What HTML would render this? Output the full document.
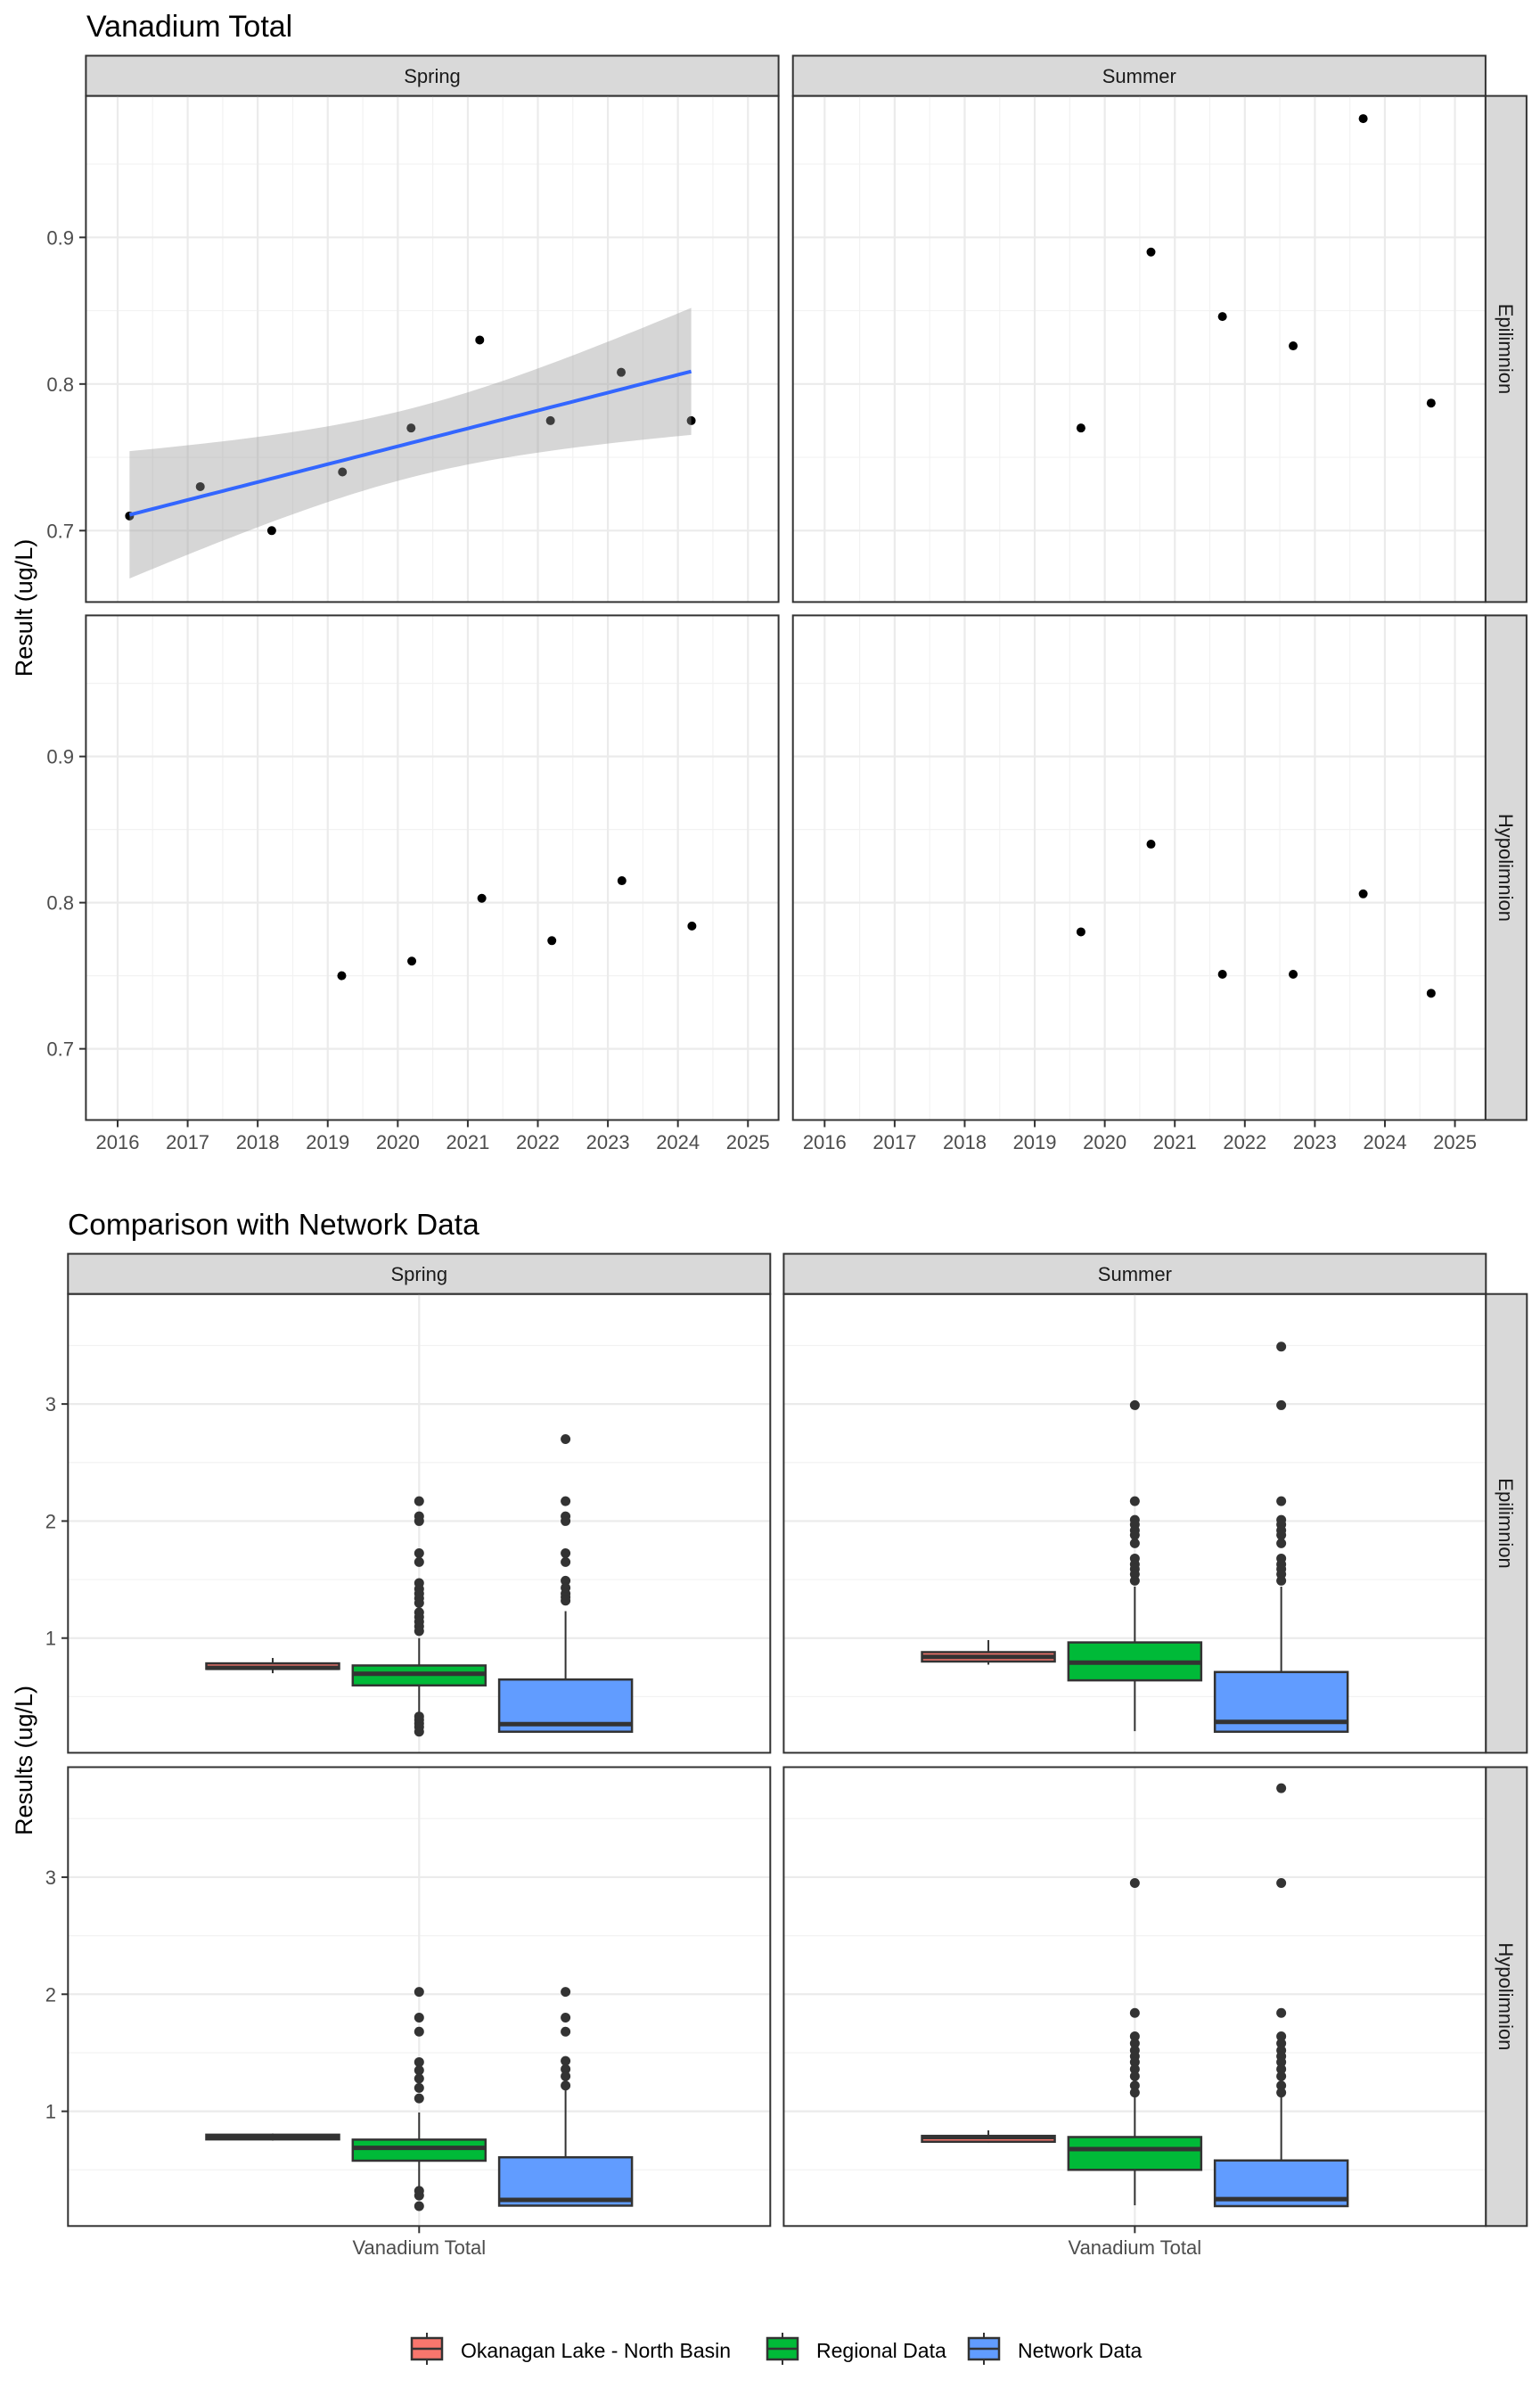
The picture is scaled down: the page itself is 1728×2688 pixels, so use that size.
<!DOCTYPE html>
<html><head><meta charset="utf-8"><style>
html,body{margin:0;padding:0;background:#fff;}
svg{display:block;font-family:"Liberation Sans",Arial,sans-serif;}
</style></head><body>
<svg id="chart" width="1728" height="2688" viewBox="0 0 1728 2688" xmlns="http://www.w3.org/2000/svg">
<rect width="1728" height="2688" fill="#fff"/>
<text x="97" y="41" font-size="34" fill="#000">Vanadium Total</text>
<text x="76" y="1385" font-size="33.5" fill="#000">Comparison with Network Data</text>
<text transform="translate(36,682) rotate(-90)" text-anchor="middle" font-size="27" fill="#000">Result (ug/L)</text>
<text transform="translate(36,1975) rotate(-90)" text-anchor="middle" font-size="27" fill="#000">Results (ug/L)</text>
<g id="topchart"></g>
<g id="bottomchart"></g>
<g id="legend"></g>
</svg>
<script>
// ---------- Trend chart data ----------
const seasons = ["Spring", "Summer"];
const layers = ["Epilimnion", "Hypolimnion"];
const yearTicks = [2016,2017,2018,2019,2020,2021,2022,2023,2024,2025];
const trendYTicks = [0.7, 0.8, 0.9];
const trendYTickLabels = ["0.7", "0.8", "0.9"];
const springEpiYears = [2016.17,2017.18,2018.2,2019.21,2020.19,2021.17,2022.18,2023.19,2024.19];
const springEpiValues = [0.71,0.73,0.70,0.74,0.77,0.83,0.775,0.808,0.775];
const springHypoYears = [2019.2,2020.2,2021.2,2022.2,2023.2,2024.2];
const springHypoValues = [0.75,0.76,0.803,0.774,0.815,0.784];
const summerEpiYears = [2019.66,2020.66,2021.68,2022.69,2023.69,2024.66];
const summerEpiValues = [0.77,0.89,0.846,0.826,0.981,0.787];
const summerHypoYears = [2019.66,2020.66,2021.68,2022.69,2023.69,2024.66];
const summerHypoValues = [0.78,0.84,0.751,0.751,0.806,0.738];

// ---------- Comparison chart data ----------
const groups = ["Okanagan Lake - North Basin", "Regional Data", "Network Data"];
const boxYTicks = [1, 2, 3];
const boxYTickLabels = ["1", "2", "3"];
const xCategory = "Vanadium Total";
// [lowWhisker, q1, median, q3, highWhisker]
const springEpiStats = [[0.70,0.737,0.746,0.784,0.83],[0.35,0.596,0.695,0.766,1.0],[0.2,0.2,0.265,0.646,1.23]];
const springEpiOut = [[],[2.17,2.04,2.0,1.725,1.65,1.47,1.42,1.38,1.34,1.3,1.22,1.18,1.14,1.1,1.06,0.33,0.3,0.27,0.24,0.2],[2.70,2.17,2.04,2.0,1.725,1.65,1.49,1.43,1.38,1.35,1.32]];
const summerEpiStats = [[0.773,0.80,0.84,0.88,0.983],[0.205,0.639,0.79,0.963,1.44],[0.2,0.2,0.284,0.71,1.44]];
const summerEpiOut = [[],[2.99,2.17,2.01,1.97,1.92,1.88,1.81,1.68,1.63,1.59,1.545,1.49],[3.49,2.99,2.17,2.01,1.97,1.92,1.88,1.81,1.68,1.63,1.59,1.545,1.49]];
const springHypoStats = [[0.75,0.76,0.78,0.80,0.81],[0.36,0.578,0.688,0.758,0.99],[0.194,0.194,0.243,0.607,1.21]];
const springHypoOut = [[],[2.02,1.80,1.68,1.42,1.35,1.28,1.20,1.11,0.32,0.28,0.19],[2.02,1.80,1.68,1.43,1.36,1.30,1.22]];
const summerHypoStats = [[0.73,0.74,0.78,0.79,0.837],[0.197,0.50,0.677,0.78,1.14],[0.19,0.19,0.25,0.58,1.14]];
const summerHypoOut = [[],[2.95,1.84,1.64,1.58,1.52,1.47,1.42,1.36,1.30,1.22,1.16],[3.76,2.95,1.84,1.64,1.58,1.52,1.47,1.42,1.36,1.30,1.22,1.16]];
const groupColors = ["#F8766D","#00BA38","#619CFF"];

const NS = "http://www.w3.org/2000/svg";
function mk(parent, tag, attrs){ const e=document.createElementNS(NS,tag); for(const k in attrs) e.setAttribute(k,attrs[k]); parent.appendChild(e); return e; }

// ================= TOP CHART =================
const topG = document.getElementById("topchart");
const tCols = [[96.4,873.6],[889.7,1666.9]];
const tRows = [[107.6,675.4],[690.4,1256.5]];
const tXDom = [2015.547, 2025.437];
const tYDom = [0.6513, 0.9965];
const tData = [[[springEpiYears,springEpiValues],[springHypoYears,springHypoValues]],[[summerEpiYears,summerEpiValues],[summerHypoYears,summerHypoValues]]];

function fitLine(xs, ys){
  const n=xs.length; const mx=xs.reduce((a,b)=>a+b,0)/n; const my=ys.reduce((a,b)=>a+b,0)/n;
  let sxx=0,sxy=0; for(let i=0;i<n;i++){sxx+=(xs[i]-mx)**2; sxy+=(xs[i]-mx)*(ys[i]-my);}
  const b=sxy/sxx, a=my-b*mx; let sse=0; for(let i=0;i<n;i++) sse+=(ys[i]-a-b*xs[i])**2;
  const s=Math.sqrt(sse/(n-2)); return {a,b,s,n,mx,sxx};
}

for(let c=0;c<2;c++){
  const [x0,x1]=tCols[c];
  const sx=v=>x0+(v-tXDom[0])/(tXDom[1]-tXDom[0])*(x1-x0);
  const strip=mk(topG,"rect",{x:x0,y:62.5,width:x1-x0,height:45.1,fill:"#d9d9d9",stroke:"#333",'stroke-width':2});
  
  
  const st=mk(topG,"text",{x:(x0+x1)/2,y:93,'text-anchor':'middle','font-size':22,fill:'#1a1a1a'}); st.textContent=seasons[c];
  
  
  for(let r=0;r<2;r++){
    const [y0,y1]=tRows[r];
    const sy=v=>y1-(v-tYDom[0])/(tYDom[1]-tYDom[0])*(y1-y0);
    const g=mk(topG,"g",{});
    
    
    for(let i=0;i<yearTicks.length+1;i++){ const yv=yearTicks[0]-0.5+i; const xx=sx(yv); if(xx>x0&&xx<x1) mk(g,"line",{x1:xx,x2:xx,y1:y0,y2:y1,stroke:"#f2f2f2",'stroke-width':1.2}); }
    [0.65,0.75,0.85,0.95].forEach(v=>{const yy=sy(v); if(yy>y0&&yy<y1) mk(g,"line",{x1:x0,x2:x1,y1:yy,y2:yy,stroke:"#f2f2f2",'stroke-width':1.2});});
    yearTicks.forEach(v=>{const xx=sx(v); mk(g,"line",{x1:xx,x2:xx,y1:y0,y2:y1,stroke:"#ebebeb",'stroke-width':2.2});});
    trendYTicks.forEach(v=>{const yy=sy(v); mk(g,"line",{x1:x0,x2:x1,y1:yy,y2:yy,stroke:"#ebebeb",'stroke-width':2.2});});
    const [xs,ys]=tData[c][r];
    for(let i=0;i<xs.length;i++){
      const p=mk(g,"circle",{cx:sx(xs[i]),cy:sy(ys[i]),r:5,fill:"#000"});
      
      
    }
    if(c===0&&r===0){
      const f=fitLine(xs,ys); const t=2.365; const lo=Math.min(...xs), hi=Math.max(...xs);
      let up=[],dn=[],ln=[];
      for(let k=0;k<=60;k++){ const xv=lo+(hi-lo)*k/60; const yh=f.a+f.b*xv; const se=f.s*Math.sqrt(1/f.n+(xv-f.mx)**2/f.sxx);
        up.push(sx(xv)+","+sy(yh+t*se)); dn.unshift(sx(xv)+","+sy(yh-t*se)); ln.push(sx(xv)+","+sy(yh)); }
      const band=mk(g,"polygon",{points:up.concat(dn).join(" "),fill:"#999999",'fill-opacity':0.4});
      
      
      const line=mk(g,"polyline",{points:ln.join(" "),fill:"none",stroke:"#3366FF",'stroke-width':4});
      
      
    }
    mk(g,"rect",{x:x0,y:y0,width:x1-x0,height:y1-y0,fill:"none",stroke:"#333",'stroke-width':2});
    if(c===1){
      const rs=mk(topG,"rect",{x:1666.9,y:y0,width:46,height:y1-y0,fill:"#d9d9d9",stroke:"#333",'stroke-width':2});
      
      
      const rt=mk(topG,"text",{transform:`translate(1682,${(y0+y1)/2}) rotate(90)`,'text-anchor':'middle','font-size':22,fill:'#1a1a1a'}); rt.textContent=layers[r];
      
      
    }
    if(c===0){
      trendYTicks.forEach((v,i)=>{const yy=sy(v); mk(topG,"line",{x1:89,x2:96.4,y1:yy,y2:yy,stroke:"#333",'stroke-width':2});
        const tl=mk(topG,"text",{x:83,y:yy+8,'text-anchor':'end','font-size':22,fill:'#4d4d4d'}); tl.textContent=trendYTickLabels[i];
        
        });
    }
    if(r===1){
      yearTicks.forEach(v=>{const xx=sx(v); mk(topG,"line",{x1:xx,x2:xx,y1:y1,y2:y1+8,stroke:"#333",'stroke-width':2});
        const tl=mk(topG,"text",{x:xx,y:1289,'text-anchor':'middle','font-size':22,fill:'#4d4d4d'}); tl.textContent=String(v);
        
        });
    }
  }
}

// ================= BOTTOM CHART =================
const botG = document.getElementById("bottomchart");
const bCols = [[76.3,864.3],[879.4,1667.3]];
const bRows = [[1451.7,1966.4],[1982.5,2497.3]];
const bYDom = [0.02, 3.94];
const bStats = [[springEpiStats,springHypoStats],[summerEpiStats,summerHypoStats]];
const bOut = [[springEpiOut,springHypoOut],[summerEpiOut,summerHypoOut]];
const dodge = 164.3, boxW = 149;

for(let c=0;c<2;c++){
  const [x0,x1]=bCols[c]; const cx=(x0+x1)/2;
  const strip=mk(botG,"rect",{x:x0,y:1406.6,width:x1-x0,height:45.1,fill:"#d9d9d9",stroke:"#333",'stroke-width':2});
  
  
  const st=mk(botG,"text",{x:cx,y:1437,'text-anchor':'middle','font-size':22,fill:'#1a1a1a'}); st.textContent=seasons[c];
  
  
  for(let r=0;r<2;r++){
    const [y0,y1]=bRows[r];
    const sy=v=>y1-(v-bYDom[0])/(bYDom[1]-bYDom[0])*(y1-y0);
    const g=mk(botG,"g",{});
    
    
    [0.5,1.5,2.5,3.5].forEach(v=>{const yy=sy(v); mk(g,"line",{x1:x0,x2:x1,y1:yy,y2:yy,stroke:"#f2f2f2",'stroke-width':1.2});});
    boxYTicks.forEach(v=>{const yy=sy(v); mk(g,"line",{x1:x0,x2:x1,y1:yy,y2:yy,stroke:"#ebebeb",'stroke-width':2.2});});
    mk(g,"line",{x1:cx,x2:cx,y1:y0,y2:y1,stroke:"#ebebeb",'stroke-width':2.2});
    const stats=bStats[c][r], outs=bOut[c][r];
    for(let k=0;k<3;k++){
      const gx=cx+(k-1)*dodge; const s=stats[k];
      const bg=mk(g,"g",{});
      
      
      mk(bg,"line",{x1:gx,x2:gx,y1:sy(s[4]),y2:sy(s[3]),stroke:"#333",'stroke-width':2});
      mk(bg,"line",{x1:gx,x2:gx,y1:sy(s[1]),y2:sy(s[0]),stroke:"#333",'stroke-width':2});
      mk(bg,"rect",{x:gx-boxW/2,y:sy(s[3]),width:boxW,height:Math.max(sy(s[1])-sy(s[3]),1),fill:groupColors[k],stroke:"#333",'stroke-width':2.5});
      mk(bg,"line",{x1:gx-boxW/2,x2:gx+boxW/2,y1:sy(s[2]),y2:sy(s[2]),stroke:"#333",'stroke-width':5});
      outs[k].forEach(v=>{const o=mk(bg,"circle",{cx:gx,cy:sy(v),r:5.5,fill:"#333"});
        
        });
    }
    mk(g,"rect",{x:x0,y:y0,width:x1-x0,height:y1-y0,fill:"none",stroke:"#333",'stroke-width':2});
    if(c===1){
      const rs=mk(botG,"rect",{x:1667.3,y:y0,width:46,height:y1-y0,fill:"#d9d9d9",stroke:"#333",'stroke-width':2});
      
      
      const rt=mk(botG,"text",{transform:`translate(1682,${(y0+y1)/2}) rotate(90)`,'text-anchor':'middle','font-size':22,fill:'#1a1a1a'}); rt.textContent=layers[r];
      
      
    }
    if(c===0){
      boxYTicks.forEach((v,i)=>{const yy=sy(v); mk(botG,"line",{x1:69,x2:76.3,y1:yy,y2:yy,stroke:"#333",'stroke-width':2});
        const tl=mk(botG,"text",{x:63,y:yy+8,'text-anchor':'end','font-size':22,fill:'#4d4d4d'}); tl.textContent=boxYTickLabels[i];
        
        });
    }
    if(r===1){
      mk(botG,"line",{x1:cx,x2:cx,y1:y1,y2:y1+8,stroke:"#333",'stroke-width':2});
      const tl=mk(botG,"text",{x:cx,y:2529,'text-anchor':'middle','font-size':22,fill:'#4d4d4d'}); tl.textContent=xCategory;
      
      
    }
  }
}

// ================= LEGEND =================
const legG=document.getElementById("legend");
const legKeyX=[462,861,1087];
for(let k=0;k<3;k++){
  const g=mk(legG,"g",{});
  
  
  const kx=legKeyX[k];
  mk(g,"line",{x1:kx+17,x2:kx+17,y1:2617,y2:2653,stroke:"#333",'stroke-width':2});
  mk(g,"rect",{x:kx,y:2623,width:34,height:24,fill:groupColors[k],stroke:"#333",'stroke-width':2.5});
  mk(g,"line",{x1:kx,x2:kx+34,y1:2635,y2:2635,stroke:"#333",'stroke-width':2.5});
  const t=mk(g,"text",{x:kx+55,y:2645,'font-size':23,fill:'#000'}); t.textContent=groups[k];
}
</script>
</body></html>
